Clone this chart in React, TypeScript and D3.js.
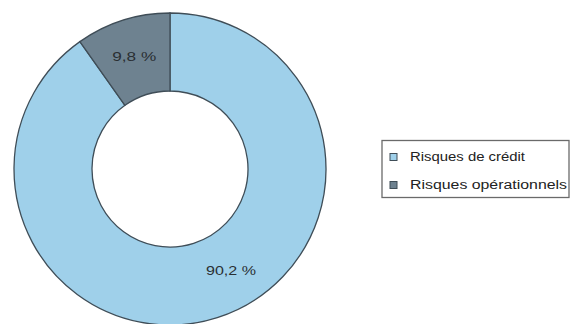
import React from "react";
import * as d3 from "d3";

const categories = ["Risques de crédit", "Risques opérationnels"];
const values = [90.2, 9.8];
const labels = ["90,2 %", "9,8 %"];
const colors = ["#9fd0ea", "#6e8290"];

const W = 571;
const H = 324;

export default function App() {
  const cx = 170;
  const cy = 169;
  const outerR = 156;
  const innerR = 78;

  const pie = d3.pie<number>().sort(null).value((d) => d).startAngle(0).endAngle(2 * Math.PI);
  const arcs = pie(values);
  const arc = d3.arc<d3.PieArcDatum<number>>().innerRadius(innerR).outerRadius(outerR);

  // label positions: centroid of the ring, with the large slice's label nudged toward its start
  const labelArc = d3.arc<any>().innerRadius(118).outerRadius(118);
  const labelAngleShift = [-0.235, 0];
  const labelWidths = [50, 44];

  return (
    <svg width={W} height={H} style={{ position: "absolute", left: 0, top: 0, background: "#fff" }}>
      <g transform={`translate(${cx},${cy})`}>
        {arcs.map((a, i) => (
          <path key={i} d={arc(a) || ""} fill={colors[i]} stroke="#3f4d57" strokeWidth={1.3} />
        ))}
        {arcs.map((a, i) => {
          const mid = (a.startAngle + a.endAngle) / 2 + labelAngleShift[i];
          const [x, y] = labelArc.centroid({ startAngle: mid, endAngle: mid });
          return (
            <text
              key={i}
              x={x}
              y={y}
              textAnchor="middle"
              dominantBaseline="central"
              fontFamily="Liberation Sans, Arial, sans-serif"
              fontSize={13}
              fill="#2a2f33"
              textLength={labelWidths[i]}
              lengthAdjust="spacingAndGlyphs"
            >
              {labels[i]}
            </text>
          );
        })}
      </g>
      <g>
        <rect x={382} y={140.5} width={187} height={57} fill="#fff" stroke="#6a6a6a" strokeWidth={1.3} />
        {categories.map((c, i) => (
          <g key={c} transform={`translate(390,${157 + i * 28})`}>
            <rect x={0} y={-3.5} width={7} height={7} fill={colors[i]} stroke="#3f4d57" strokeWidth={1} />
            <text
              x={20}
              y={0}
              dominantBaseline="central"
              fontFamily="Liberation Sans, Arial, sans-serif"
              fontSize={12}
              fill="#222"
              textLength={i === 0 ? 115 : 157}
              lengthAdjust="spacingAndGlyphs"
            >
              {c}
            </text>
          </g>
        ))}
      </g>
    </svg>
  );
}
